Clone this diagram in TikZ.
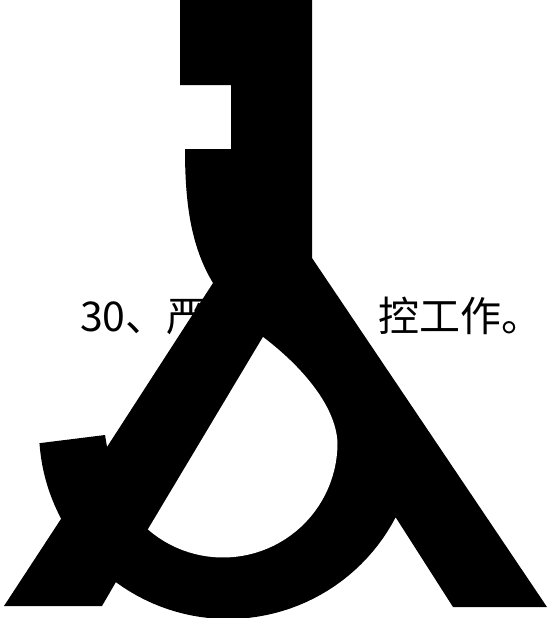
\documentclass[tikz,border=0pt]{standalone}
\usepackage{fontspec}
\newfontfamily\cjk{Noto Sans CJK SC}
\begin{document}
\begin{tikzpicture}[x=1pt,y=-1pt]
\tikzstyle{words}=[anchor=base west, inner sep=0pt, font=\cjk\fontsize{41pt}{41pt}\selectfont]
\useasboundingbox (0,0) rectangle (549,618);

\draw (80,331) node[words] (lefttext) {30、严};
\draw (378,331) node[words] (righttext) {控工作。};

\fill[black] (180,0) -- (312,0) -- (312,258) -- (547,607) -- (453,607)
  -- plot[domain=27.5:126.4, samples=40] ({228+189*cos(\x)},{430+189*sin(\x)})
  -- (102,606) -- (4,606)
  -- plot[domain=152:176, samples=12] ({228+189*cos(\x)},{430+189*sin(\x)})
  -- (105,435) -- (107,447) -- (213,283)
  .. controls (190,245) and (185,200) .. (185,149)
  -- (231,149) -- (231,85) -- (180,85) -- cycle;
\fill[white] (263,337) -- plot[domain=131:0, samples=40] ({223+114.5*cos(\x)},{443+114.5*sin(\x)})
  .. controls (336,405) and (300,365) .. (263,337) -- cycle;
\end{tikzpicture}
\end{document}
